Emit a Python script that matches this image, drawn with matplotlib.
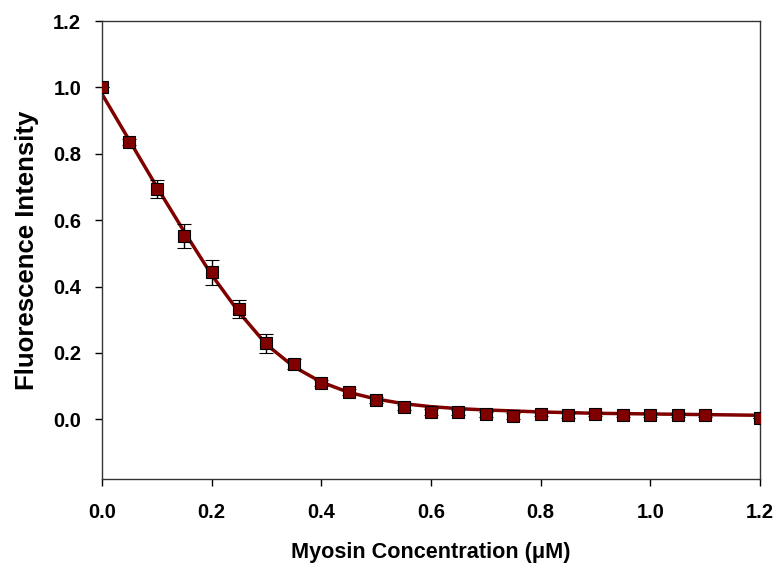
import matplotlib.pyplot as plt

plt.rcParams['font.family'] = ['Liberation Sans', 'DejaVu Sans']
plt.rcParams['font.weight'] = 'bold'

# measured points
conc = [0.0, 0.05, 0.10, 0.15, 0.20, 0.25, 0.30, 0.35, 0.40, 0.45, 0.50, 0.55,
        0.60, 0.65, 0.70, 0.75, 0.80, 0.85, 0.90, 0.95, 1.00, 1.05, 1.10, 1.20]
intensity = [1.0, 0.835, 0.694, 0.553, 0.443, 0.331, 0.229, 0.167, 0.109, 0.082, 0.058, 0.036,
             0.022, 0.021, 0.015, 0.010, 0.015, 0.012, 0.015, 0.014, 0.013, 0.013, 0.012, 0.004]
err = [0.0, 0.01, 0.027, 0.036, 0.038, 0.027, 0.029, 0.015, 0.008, 0.008, 0.008, 0.008,
       0.01, 0.008, 0.008, 0.01, 0.006, 0.008, 0.006, 0.006, 0.006, 0.006, 0.006, 0.0]

# fitted curve
fit_x = [0.0, 0.05, 0.10, 0.15, 0.20, 0.25, 0.30, 0.35, 0.40, 0.45, 0.50, 0.55,
         0.60, 0.65, 0.70, 0.75, 0.80, 0.85, 0.90, 1.00, 1.10, 1.20]
fit_y = [0.98, 0.84, 0.70, 0.565, 0.435, 0.322, 0.225, 0.158, 0.112, 0.081, 0.061, 0.047,
         0.038, 0.032, 0.028, 0.025, 0.022, 0.020, 0.018, 0.016, 0.014, 0.012]

red = '#800000'

fig = plt.figure(figsize=(7.81, 5.68), dpi=100)
ax = fig.add_axes([0.1306, 0.1567, 0.8425, 0.8063])

ax.plot(fit_x, fit_y, color=red, linewidth=2.5, zorder=2)
ax.errorbar(conc, intensity, yerr=err, fmt='s', color=red, markersize=8,
            markeredgecolor='black', markeredgewidth=0.8, ecolor='black',
            elinewidth=1, capsize=5, capthick=1, zorder=3)

ax.set_xlim(0, 1.2)
ax.set_ylim(-0.18, 1.2)
ax.set_xticks([0.0, 0.2, 0.4, 0.6, 0.8, 1.0, 1.2])
ax.set_yticks([0.0, 0.2, 0.4, 0.6, 0.8, 1.0, 1.2])
ax.xaxis.set_major_formatter(plt.FormatStrFormatter('%.1f'))
ax.yaxis.set_major_formatter(plt.FormatStrFormatter('%.1f'))
ax.tick_params(direction='out', length=5, width=1, labelsize=14.5)
ax.tick_params(axis='x', pad=12)
ax.tick_params(axis='y', pad=10)
for s in ax.spines.values():
    s.set_linewidth(1)
    s.set_color('#333333')

ax.set_xlabel('Myosin Concentration (\u03bcM)', fontsize=15.6, fontweight='bold', labelpad=15)
ax.set_ylabel('Fluorescence Intensity', fontsize=18.5, fontweight='bold', labelpad=10)

plt.savefig('out.png', dpi=100)
